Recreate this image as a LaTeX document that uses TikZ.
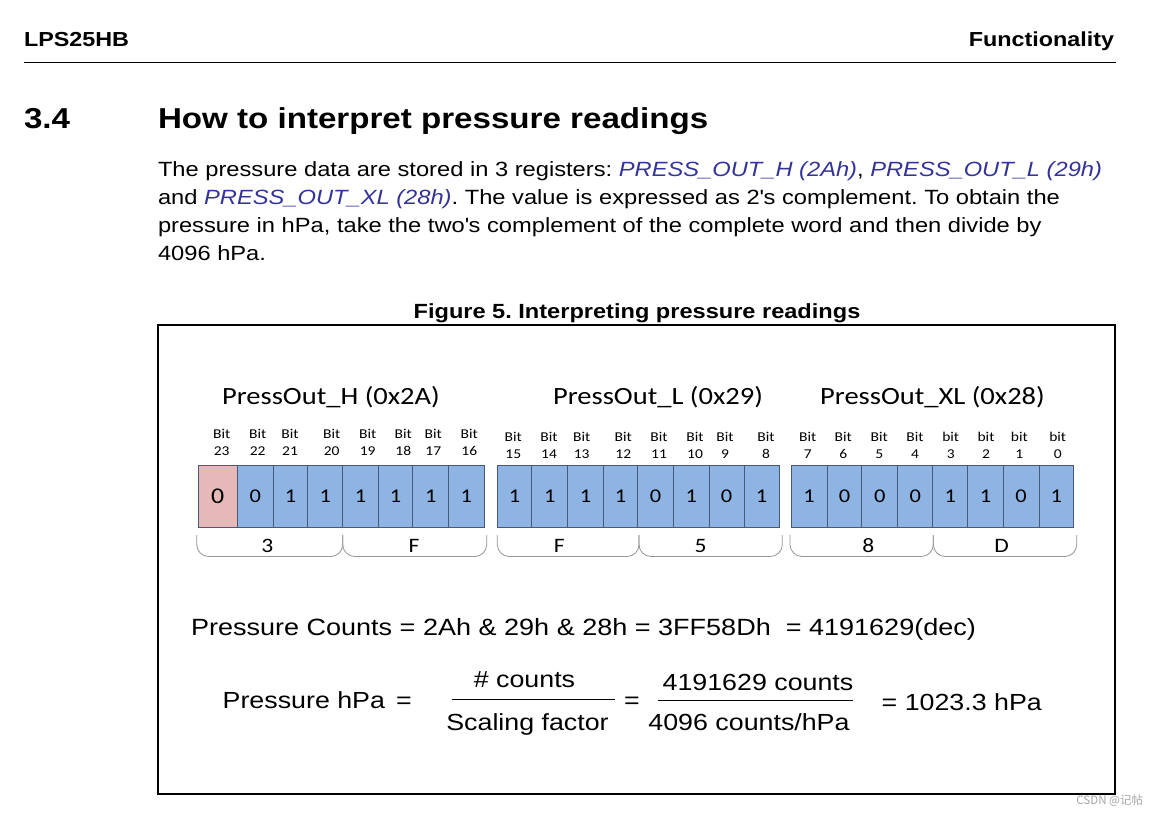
\documentclass[tikz,border=0pt]{standalone}
\usepackage{fontspec}
\setmainfont{Liberation Sans}[FakeStretch=1.15]
\newfontfamily\calib{Carlito}[FakeStretch=1.15]
\newfontfamily\cjk{Noto Sans CJK SC}
\definecolor{regblue}{RGB}{51,51,153}
\definecolor{cellblue}{RGB}{142,180,227}
\definecolor{cellpink}{RGB}{230,185,184}
\definecolor{cellborder}{RGB}{70,90,120}
\definecolor{bracegray}{RGB}{150,150,150}
\newcommand{\fs}[1]{\fontsize{#1}{#1}\selectfont}
\newcommand{\fsl}[2]{\fontsize{#1}{#2}\selectfont}
\frenchspacing
\begin{document}
\begin{tikzpicture}[x=1pt,y=-1pt,
  txt/.style={inner sep=0pt, outer sep=0pt},
  cell/.style={draw=cellborder, line width=0.7pt, fill=cellblue, inner sep=0pt,
    minimum height=62.2pt, font=\calib\fs{19.5}},
  bitlbl/.style={inner sep=0pt, align=center, font=\calib\fsl{13.5}{17}},
  regtitle/.style={inner sep=0pt, anchor=base, font=\calib\fs{24.8}},
  bracelbl/.style={inner sep=0pt, font=\calib\fs{20.5}},
  brace/.style={draw=bracegray, line width=0.8pt, rounded corners=12pt},
  fracline/.style={draw=black, line width=1pt}]
\useasboundingbox (0,0) rectangle (1158,814);
\fill[white] (0,0) rectangle (1158,814);

% header
\node[txt, anchor=base west, font=\bfseries\fs{20.3}] (hdrl) at (24,46) {LPS25HB};
\node[txt, anchor=base east, font=\bfseries\fs{20.3}] (hdrr) at (1114,46) {Functionality};
\draw[line width=1.2pt] (24,62.5) -- (1116,62.5);

% section title
\node[txt, anchor=base west, font=\bfseries\fs{28.8}] (secnum) at (24,128) {3.4};
\node[txt, anchor=base west, font=\bfseries\fs{28.8}] (sectitle) at (158,128) {How to interpret pressure readings};

% body
\node[txt, anchor=base west, font=\fs{20.6}] (b1) at (158,176) {The pressure data are stored in 3 registers: \textcolor{regblue}{\itshape PRESS\_OUT\_H (2Ah)}, \textcolor{regblue}{\itshape PRESS\_OUT\_L (29h)}};
\node[txt, anchor=base west, font=\fs{20.6}] (b2) at (158,204) {and \textcolor{regblue}{\itshape PRESS\_OUT\_XL (28h)}. The value is expressed as 2\textquotesingle s complement. To obtain the};
\node[txt, anchor=base west, font=\fs{20.6}] (b3) at (158,232) {pressure in hPa, take the two\textquotesingle s complement of the complete word and then divide by};
\node[txt, anchor=base west, font=\fs{20.6}] (b4) at (158,260) {4096 hPa.};

% caption
\node[txt, anchor=base, font=\bfseries\fs{20.5}] (cap) at (637,318) {Figure 5. Interpreting pressure readings};

% frame
\draw[line width=1.3pt] (158,325) rectangle (1115,794);

% register titles
\node[regtitle] (th) at (331,404) {PressOut\_H (0x2A)};
\node[regtitle] (tl) at (658,404) {PressOut\_L (0x29)};
\node[regtitle] (txl) at (932.5,404) {PressOut\_XL (0x28)};

% cells register H
\foreach \xa/\xb/\v [count=\i] in {237.3/273.3/0, 273.3/307.7/1, 307.7/342.7/1, 342.7/378.3/1, 378.3/412.7/1, 412.7/448.7/1, 448.7/484/1}
  \node[cell, minimum width={\xb-\xa}] (h\i) at ({(\xa+\xb)/2},496.4) {\v};
\node[cell, minimum width=39pt, fill=cellpink, font=\calib\fs{22.5}] (h0) at (217.8,496.4) {0};
% cells register L
\foreach \xa/\xb/\v [count=\i] in {497.3/531.7/1, 531.7/567.7/1, 567.7/603.3/1, 603.3/637.7/1, 637.7/673.3/0, 673.3/709.3/1, 709.3/744/0, 744/779.3/1}
  \node[cell, minimum width={\xb-\xa}] (l\i) at ({(\xa+\xb)/2},496.6) {\v};
% cells register XL
\foreach \xa/\xb/\v [count=\i] in {791/827.3/1, 827.3/861.7/0, 861.7/897.7/0, 897.7/932.7/0, 932.7/967.7/1, 967.7/1003.3/1, 1003.3/1039/0, 1039/1073.7/1}
  \node[cell, minimum width={\xb-\xa}] (x\i) at ({(\xa+\xb)/2},496.4) {\v};

% bit labels
\foreach \x/\n in {221.7/23, 257.7/22, 290/21, 331.7/20, 367.7/19, 403.3/18, 433.3/17, 469.3/16}
  \node[bitlbl] (bh\n) at (\x,442.5) {Bit\\ \n};
\foreach \x/\n in {513.3/15, 549/14, 581.7/13, 623.3/12, 659/11, 695/10, 725/9, 766/8}
  \node[bitlbl] (bl\n) at (\x,445.5) {Bit\\ \n};
\foreach \x/\n in {807.7/7, 843.3/6, 879.3/5, 915/4}
  \node[bitlbl] (bx\n) at (\x,445.5) {Bit\\ \n};
\foreach \x/\n in {950.7/3, 986/2, 1019.3/1, 1057.7/0}
  \node[bitlbl] (bx\n) at (\x,445.5) {bit\\ \n};

% braces
\foreach \xa/\xb in {196.7/342.7, 342.7/486.7, 497.3/639, 639/782.3, 790/933.3, 933.3/1076.7}
  \draw[brace] (\xa,535) -- (\xa,556.5) -- (\xb,556.5) -- (\xb,535);
\node[bracelbl] (n1) at (267.3,546) {3};
\node[bracelbl] (n2) at (414,546) {F};
\node[bracelbl] (n3) at (559.3,546) {F};
\node[bracelbl] (n4) at (700.7,546) {5};
\node[bracelbl] (n5) at (868.3,546) {8};
\node[bracelbl] (n6) at (1001.7,546) {D};

% pressure counts
\node[txt, anchor=base west, font=\fs{23.5}] (pc) at (191,635.5) {Pressure Counts = 2Ah \& 29h \& 28h = 3FF58Dh\ \ = 4191629(dec)};

% formula
\node[txt, anchor=base west, font=\fs{23.3}] (ph) at (222.7,708.5) {Pressure hPa};
\node[txt, anchor=base, font=\fs{23.3}] (eq1) at (404,708.5) {=};
\node[txt, anchor=base, font=\fs{23.3}] (num1) at (524.5,687.5) {\# counts};
\node[txt, anchor=base, font=\fs{23.3}] (den1) at (527.5,730.5) {Scaling factor};
\draw[fracline] (451.7,699.3) -- (615,699.3);
\node[txt, anchor=base, font=\fs{23.3}] (eq2) at (632,708.5) {=};
\node[txt, anchor=base, font=\fs{23.3}] (num2) at (758,690.5) {4191629 counts};
\node[txt, anchor=base, font=\fs{23.3}] (den2) at (749,730.5) {4096 counts/hPa};
\draw[fracline] (658.3,700) -- (852.7,700);
\node[txt, anchor=base west, font=\fs{23.3}] (res) at (881.7,710) {= 1023.3 hPa};

% watermark
\node[txt, anchor=base east, text=black!35, font=\cjk\fontsize{11.5}{12}\selectfont] (wm) at (1143,804) {CSDN @记帖};
\end{tikzpicture}
\end{document}
